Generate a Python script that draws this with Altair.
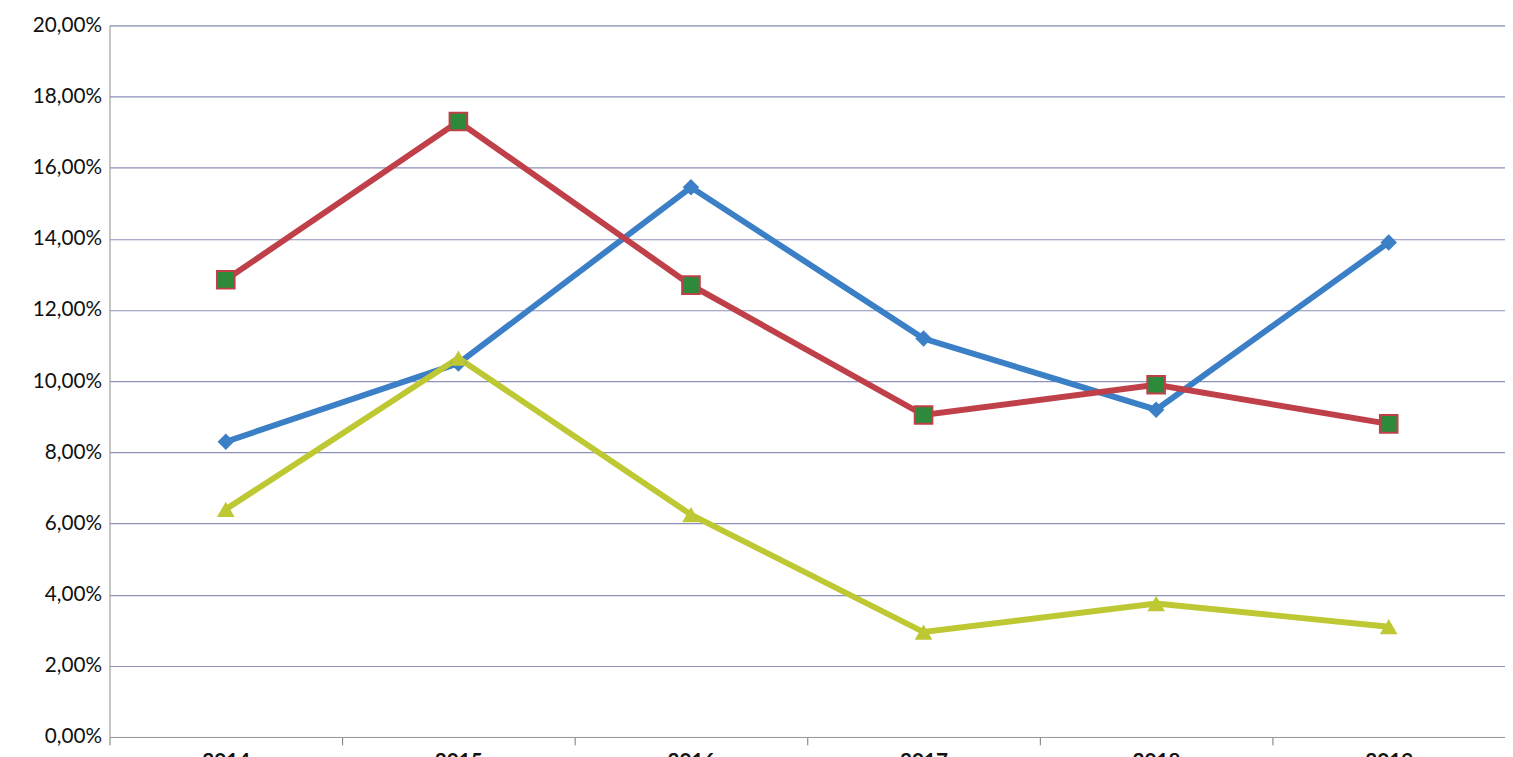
import pandas as pd
import altair as alt

years = ["2014", "2015", "2016", "2017", "2018", "2019"]
blue = [8.3, 10.5, 15.45, 11.2, 9.2, 13.9]
red = [12.85, 17.3, 12.7, 9.05, 9.9, 8.8]
yellow = [6.4, 10.65, 6.25, 2.95, 3.75, 3.1]

series = {"A": blue, "B": red, "C": yellow}
df = pd.concat(
    [pd.DataFrame({"year": years, "value": v, "s": k}) for k, v in series.items()]
)

x = alt.X(
    "year:N",
    title=None,
    scale=alt.Scale(paddingInner=0, paddingOuter=0),
    axis=alt.Axis(
        labelAngle=0, labelFontSize=21, labelFontWeight="bold", labelColor="#111",
        domainColor="#999", tickColor="#777", tickSize=8, tickBand="extent",
        grid=False, labelPadding=6, labelFont="Lato",
    ),
)
y = alt.Y(
    "value:Q",
    title=None,
    scale=alt.Scale(domain=[0, 20], nice=False),
    axis=alt.Axis(
        values=list(range(0, 21, 2)), labelExpr="replace(format(datum.value, '.2f'), '.', ',') + '%'",
        labelFontSize=21, labelColor="#111", labelFont="Lato", labelPadding=8,
        gridColor="#8d90b8", gridWidth=1.2, domainColor="#999", ticks=False,
    ),
)

colors = alt.Scale(domain=["A", "B", "C"], range=["#3b7fc6", "#c0404a", "#bdc832"])
base = alt.Chart(df)
lines = base.mark_line(strokeWidth=6).encode(x=x, y=y, color=alt.Color("s:N", scale=colors, legend=None))

pts_a = base.transform_filter("datum.s == 'A'").mark_point(
    shape="diamond", filled=True, size=280, color="#3b7fc6", opacity=1
).encode(x=x, y=y)
pts_b = base.transform_filter("datum.s == 'B'").mark_point(
    shape="square", filled=True, size=320, color="#2c8a3a", stroke="#c0404a", strokeWidth=2, opacity=1
).encode(x=x, y=y)
pts_c = base.transform_filter("datum.s == 'C'").mark_point(
    shape="triangle-up", filled=True, size=320, color="#bdc832", opacity=1
).encode(x=x, y=y)

chart = (
    alt.layer(lines, pts_a, pts_b, pts_c)
    .properties(width=1416, height=722, autosize=alt.AutoSizeParams(type="none"),
                padding={"left": 103, "top": 12, "right": 0, "bottom": 40})
    .configure_view(stroke=None)
    .configure(background="white")
)
chart.save("out.html", embed_options={"renderer": "svg", "actions": False})
